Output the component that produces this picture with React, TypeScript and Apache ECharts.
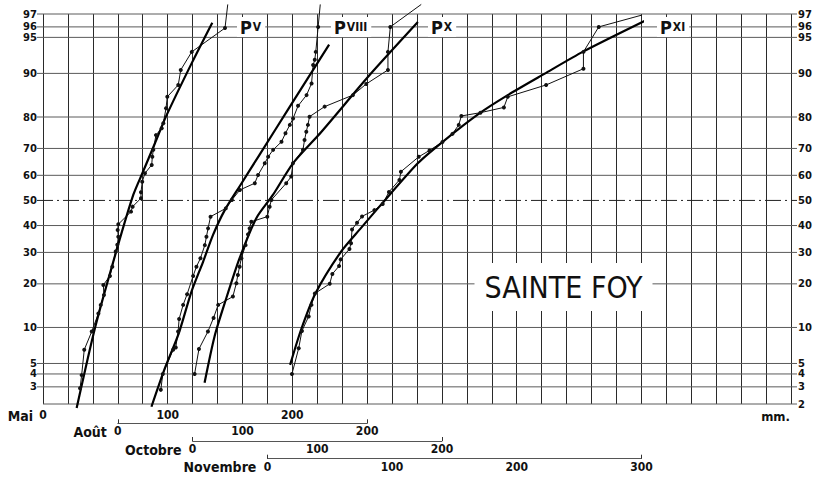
import React, { useEffect, useRef } from 'react';
import * as echarts from 'echarts';

// ---- Data (x in mm on each month's own axis, y in cumulative %) ----
const yTickPercents = [2, 3, 4, 5, 10, 20, 30, 40, 50, 60, 70, 80, 90, 95, 96, 97];
const maiLabels = [0, 100, 200];
const aoutLabels = [0, 100, 200];
const octobreLabels = [0, 100, 200];
const novembreLabels = [0, 100, 200, 300];

const pvPoints = [
  [29.7, 2.9], [31.0, 3.9], [33.1, 6.6], [39.1, 9.3], [44.4, 12.7], [46.3, 14.6], [48.9, 17.0],
  [48.4, 19.7], [53.7, 22.3], [55.6, 25.2], [58.3, 30.3], [59.6, 32.7], [60.4, 35.7], [59.9, 38.3],
  [60.4, 40.5], [70.6, 45.5], [71.9, 47.5], [78.6, 50.9], [78.6, 53.3], [79.6, 57.5], [81.8, 60.8],
  [87.2, 64.0], [87.7, 67.0], [88.5, 69.5], [90.6, 74.5], [95.2, 76.7], [96.5, 78.2], [98.7, 82.4],
  [99.7, 85.2], [108.5, 87.8], [110.5, 90.6], [119.3, 93.3], [146.0, 95.9], [148.2, 97.6],
];
const pvFit = [
  [27.0, 1.81], [41.7, 9.9], [59.1, 30.9], [72.4, 52.2], [79.7, 60.8], [89.8, 71.8],
  [98.6, 80.1], [119.3, 91.7], [135.8, 96.35],
];

const pviiiPoints = [
  [34.5, 2.8], [36.1, 4.0], [44.4, 6.6], [46.5, 6.9], [48.4, 9.3], [49.2, 11.6], [52.4, 14.6],
  [55.6, 17.2], [60.4, 22.3], [63.1, 25.2], [66.3, 28.0], [69.8, 32.6], [71.1, 35.7], [72.4, 38.9],
  [74.4, 43.5], [86.6, 46.8], [91.5, 50.2], [97.9, 54.2], [109.9, 56.9], [112.5, 60.1], [117.9, 64.6],
  [120.6, 67.0], [124.6, 69.5], [131.3, 72.3], [134.5, 75.1], [138.0, 77.7], [140.6, 79.6],
  [144.6, 83.0], [151.4, 85.6], [155.4, 88.1], [156.7, 91.4], [158.0, 92.2], [158.8, 93.3],
  [160.7, 96.0], [162.4, 97.6],
];
const pviiiFit = [
  [27.0, 1.87], [37.7, 4.5], [48.9, 9.0], [59.1, 17.9], [68.4, 26.8], [76.4, 36.4], [85.8, 46.1],
  [97.9, 55.8], [113.9, 67.9], [138.0, 82.8], [169.5, 94.2],
];

const pxPoints = [
  [1.6, 4.0], [5.1, 6.7], [12.3, 9.3], [16.8, 11.8], [20.5, 14.6], [32.3, 16.6], [35.1, 20.2],
  [36.3, 22.6], [37.7, 25.2], [39.1, 28.0], [42.5, 32.6], [44.4, 36.6], [45.7, 38.9], [47.1, 41.5],
  [59.9, 43.5], [61.8, 47.5], [63.2, 50.2], [75.1, 56.9], [79.1, 59.5], [80.5, 64.6], [88.5, 69.5],
  [89.8, 72.9], [91.2, 75.6], [92.5, 77.7], [93.8, 80.1], [105.9, 82.8], [128.6, 85.6],
  [139.3, 88.0], [156.7, 90.6], [156.7, 93.3], [158.6, 96.0], [183.4, 97.6],
];
const pxFit = [
  [9.6, 3.3], [17.6, 8.5], [26.5, 15.7], [37.7, 28.0], [51.1, 42.9], [64.4, 52.2], [80.5, 64.6],
  [103.2, 75.5], [142.0, 89.7], [180.7, 96.4],
];

const pxiPoints = [
  [19.7, 4.0], [25.1, 6.8], [27.7, 9.4], [33.1, 12.1], [35.3, 14.6], [38.1, 17.4], [50.0, 20.0],
  [52.1, 22.9], [57.5, 25.4], [58.8, 27.6], [65.8, 31.2], [67.1, 33.3], [67.9, 38.5], [71.9, 41.1],
  [75.9, 43.6], [85.8, 46.1], [92.5, 48.6], [97.5, 53.4], [105.9, 58.2], [107.1, 61.4],
  [121.4, 67.0], [130.0, 69.3], [140.4, 72.2], [148.4, 74.9], [153.5, 77.7], [155.6, 80.3],
  [170.9, 81.2], [189.7, 82.6], [192.8, 85.2], [223.6, 87.8], [253.5, 90.8], [253.5, 93.3],
  [265.8, 96.0], [316.9, 97.3],
];
const pxiFit = [
  [18.2, 4.85], [27.0, 9.6], [38.5, 17.4], [59.1, 30.3], [75.0, 39.0], [89.8, 47.5], [120.6, 64.6],
  [140.6, 72.3], [170.0, 81.0], [192.8, 85.6], [223.6, 90.1], [252.9, 93.3], [305.0, 96.6],
];

// ---- Normal probability scale (inverse normal CDF, Acklam) ----
function probit(p: number): number {
  const a = [-3.969683028665376e1, 2.209460984245205e2, -2.759285104469687e2, 1.38357751867269e2, -3.066479806614716e1, 2.506628277459239];
  const b = [-5.447609879822406e1, 1.615858368580409e2, -1.556989798598866e2, 6.680131188771972e1, -1.328068155633450e1];
  const c = [-7.784894002430293e-3, -3.223964580411365e-1, -2.400758277161838, -2.549671348404919, 4.374664141464968, 2.938163982698783];
  const d = [7.784695709041462e-3, 3.224671290700398e-1, 2.445134137142996, 3.754408661907416];
  const pl = 0.02425;
  if (p < pl) {
    const q = Math.sqrt(-2 * Math.log(p));
    return (((((c[0] * q + c[1]) * q + c[2]) * q + c[3]) * q + c[4]) * q + c[5]) / ((((d[0] * q + d[1]) * q + d[2]) * q + d[3]) * q + 1);
  }
  if (p <= 1 - pl) {
    const q = p - 0.5;
    const r = q * q;
    return ((((((a[0] * r + a[1]) * r + a[2]) * r + a[3]) * r + a[4]) * r + a[5]) * q) / (((((b[0] * r + b[1]) * r + b[2]) * r + b[3]) * r + b[4]) * r + 1);
  }
  const q = Math.sqrt(-2 * Math.log(1 - p));
  return -(((((c[0] * q + c[1]) * q + c[2]) * q + c[3]) * q + c[4]) * q + c[5]) / ((((d[0] * q + d[1]) * q + d[2]) * q + d[3]) * q + 1);
}

const Y_MIN = probit(0.02);
const Y_MAX = probit(0.97);

// ---- Layout ----
const PLOT_LEFT = 43;
const PLOT_TOP = 14;
const PLOT_W = 748;
const PLOT_H = 390;
const MAI_MAX = 600;
const PX_PER_MM = PLOT_W / MAI_MAX;
const NARROW = '"Liberation Sans Narrow", "DejaVu Sans Condensed", "Arial Narrow", sans-serif';
const TICK_FONT = 'bold 10px "DejaVu Sans", sans-serif';
const INK = '#111';

const rowAxes = [
  { originMm: 60, max: 200, labels: aoutLabels, offset: 19.3, name: 'Août' },
  { originMm: 120, max: 200, labels: octobreLabels, offset: 37, name: 'Octobre' },
  { originMm: 180, max: 300, labels: novembreLabels, offset: 54.7, name: 'Novembre' },
];

function toXY(points: number[][]) {
  return points.map(([mm, p]) => [mm, probit(p / 100)]);
}

function dataSeries(points: number[][], idx: number) {
  const xy = toXY(points);
  return {
    type: 'line',
    xAxisIndex: idx,
    yAxisIndex: idx,
    clip: false,
    silent: true,
    z: 4,
    symbol: 'circle',
    symbolSize: 4,
    showAllSymbol: true,
    itemStyle: { color: INK },
    lineStyle: { color: INK, width: 1 },
    data: xy.map((v, i) => (i === xy.length - 1 ? { value: v, symbol: 'none' } : v)),
  };
}

function fitSeries(points: number[][], idx: number) {
  return {
    type: 'line',
    xAxisIndex: idx,
    yAxisIndex: idx,
    clip: false,
    silent: true,
    z: 4,
    symbol: 'none',
    smooth: 0.25,
    lineStyle: { color: '#000', width: 2.2 },
    data: toXY(points),
  };
}

function buildOption() {
  const grids: any[] = [
    { left: PLOT_LEFT, top: PLOT_TOP, width: PLOT_W, height: PLOT_H, containLabel: false, outerBoundsMode: 'none' },
  ];
  rowAxes.forEach((r) => {
    grids.push({
      left: PLOT_LEFT + r.originMm * PX_PER_MM,
      top: PLOT_TOP,
      width: r.max * PX_PER_MM,
      height: PLOT_H,
      containLabel: false,
      outerBoundsMode: 'none',
    });
  });

  const xAxes: any[] = [
    {
      type: 'value',
      gridIndex: 0,
      min: 0,
      max: MAI_MAX,
      interval: 20,
      axisLine: { show: false, onZero: false },
      axisTick: { show: false },
      splitLine: { show: true, lineStyle: { color: '#2a2a2a', width: 1 } },
      axisLabel: {
        margin: 5,
        color: INK,
        fontFamily: NARROW,
        fontWeight: 'bold',
        fontSize: 12,
        formatter: (v: number) => (maiLabels.includes(v) ? String(v) : ''),
      },
    },
  ];
  rowAxes.forEach((r, i) => {
    xAxes.push({
      type: 'value',
      gridIndex: i + 1,
      min: 0,
      max: r.max,
      interval: 100,
      offset: r.offset,
      axisLine: { show: true, onZero: false, lineStyle: { color: '#555', width: 1 } },
      axisTick: { show: true, inside: true, length: 4, customValues: [0, r.max], lineStyle: { color: '#333' } },
      splitLine: { show: false },
      axisLabel: {
        margin: 2,
        color: INK,
        fontFamily: NARROW,
        fontWeight: 'bold',
        fontSize: 12,
        formatter: (v: number) => (r.labels.includes(v) ? String(v) : ''),
      },
    });
  });

  const yAxes = [0, 1, 2, 3].map((i) => ({
    type: 'value',
    gridIndex: i,
    min: Y_MIN,
    max: Y_MAX,
    show: false,
    axisLine: { onZero: false },
    splitLine: { show: false },
  }));

  const gridLineSeries = {
    type: 'custom',
    xAxisIndex: 0,
    yAxisIndex: 0,
    clip: false,
    silent: true,
    z: 1,
    encode: { x: 0, y: 1 },
    data: yTickPercents.map((p) => [0, probit(p / 100), p]),
    renderItem: (params: any, api: any) => {
      const p = api.value(2);
      const y = api.coord([0, api.value(1)])[1];
      const cs = params.coordSys;
      const x0 = cs.x;
      const x1 = cs.x + cs.width;
      const is50 = p === 50;
      const children: any[] = [
        {
          type: 'line',
          shape: { x1: p === 2 ? x0 : x0 - 6, y1: y, x2: x1 + 6, y2: y },
          style: is50
            ? { stroke: '#222', lineWidth: 1, lineDash: [16, 4, 2, 4] }
            : { stroke: '#5a5a5a', lineWidth: 1 },
        },
        {
          type: 'text',
          style: { text: String(p), x: x1 + 7, y, align: 'left', verticalAlign: 'middle', font: TICK_FONT, fill: INK },
        },
      ];
      if (p !== 2) {
        children.push({
          type: 'text',
          style: { text: String(p), x: x0 - 6, y, align: 'right', verticalAlign: 'middle', font: TICK_FONT, fill: INK },
        });
      }
      return { type: 'group', children };
    },
  };

  const nameFont = `bold 14px ${NARROW}`;
  const rowNameY = [432, 450, 467];
  const graphic: any[] = [
    { type: 'text', x: 33, y: 416, z: 100, style: { text: 'Mai', font: nameFont, fill: INK, align: 'right', verticalAlign: 'middle' } },
    { type: 'text', x: 790, y: 416, z: 100, style: { text: 'mm.', font: `bold 13px ${NARROW}`, fill: INK, align: 'right', verticalAlign: 'middle' } },
    ...rowAxes.map((r, i) => ({
      type: 'text',
      x: PLOT_LEFT + r.originMm * PX_PER_MM - 11,
      y: rowNameY[i],
      z: 100,
      style: { text: r.name, font: nameFont, fill: INK, align: 'right', verticalAlign: 'middle' },
    })),
    {
      type: 'text',
      x: 563.5,
      y: 287,
      z: 100,
      style: {
        text: 'SAINTE FOY',
        font: `30px ${NARROW}`,
        fill: INK,
        align: 'center',
        verticalAlign: 'middle',
        backgroundColor: '#fff',
        padding: [9, 10, 9, 10],
      },
    },
  ];
  const pLabels = [
    { x: 237, sub: 'V' },
    { x: 331, sub: 'VIII' },
    { x: 428, sub: 'X' },
    { x: 657, sub: 'XI' },
  ];
  pLabels.forEach((l) => {
    graphic.push({
      type: 'text',
      x: l.x,
      y: 27,
      z: 100,
      style: {
        text: `{p|P}{s|${l.sub}}`,
        align: 'left',
        verticalAlign: 'middle',
        backgroundColor: '#fff',
        padding: [1, 4, 1, 3],
        rich: {
          p: { font: `bold 18px ${NARROW}`, fill: INK },
          s: { font: `bold 12px ${NARROW}`, fill: INK, padding: [0, 0, 0, 1] },
        },
      },
    });
  });

  return {
    animation: false,
    backgroundColor: '#fff',
    grid: grids,
    xAxis: xAxes,
    yAxis: yAxes,
    graphic,
    series: [
      gridLineSeries,
      dataSeries(pvPoints, 0),
      fitSeries(pvFit, 0),
      dataSeries(pviiiPoints, 1),
      fitSeries(pviiiFit, 1),
      dataSeries(pxPoints, 2),
      fitSeries(pxFit, 2),
      dataSeries(pxiPoints, 3),
      fitSeries(pxiFit, 3),
    ],
  };
}

export default function App() {
  const ref = useRef<HTMLDivElement>(null);
  useEffect(() => {
    if (!ref.current) return;
    const chart = echarts.init(ref.current, null, { renderer: 'svg' });
    chart.setOption(buildOption() as any);
    return () => chart.dispose();
  }, []);
  return (
    <div
      ref={ref}
      style={{ position: 'absolute', left: 0, top: 0, width: 820, height: 477, background: '#fff' }}
    />
  );
}
